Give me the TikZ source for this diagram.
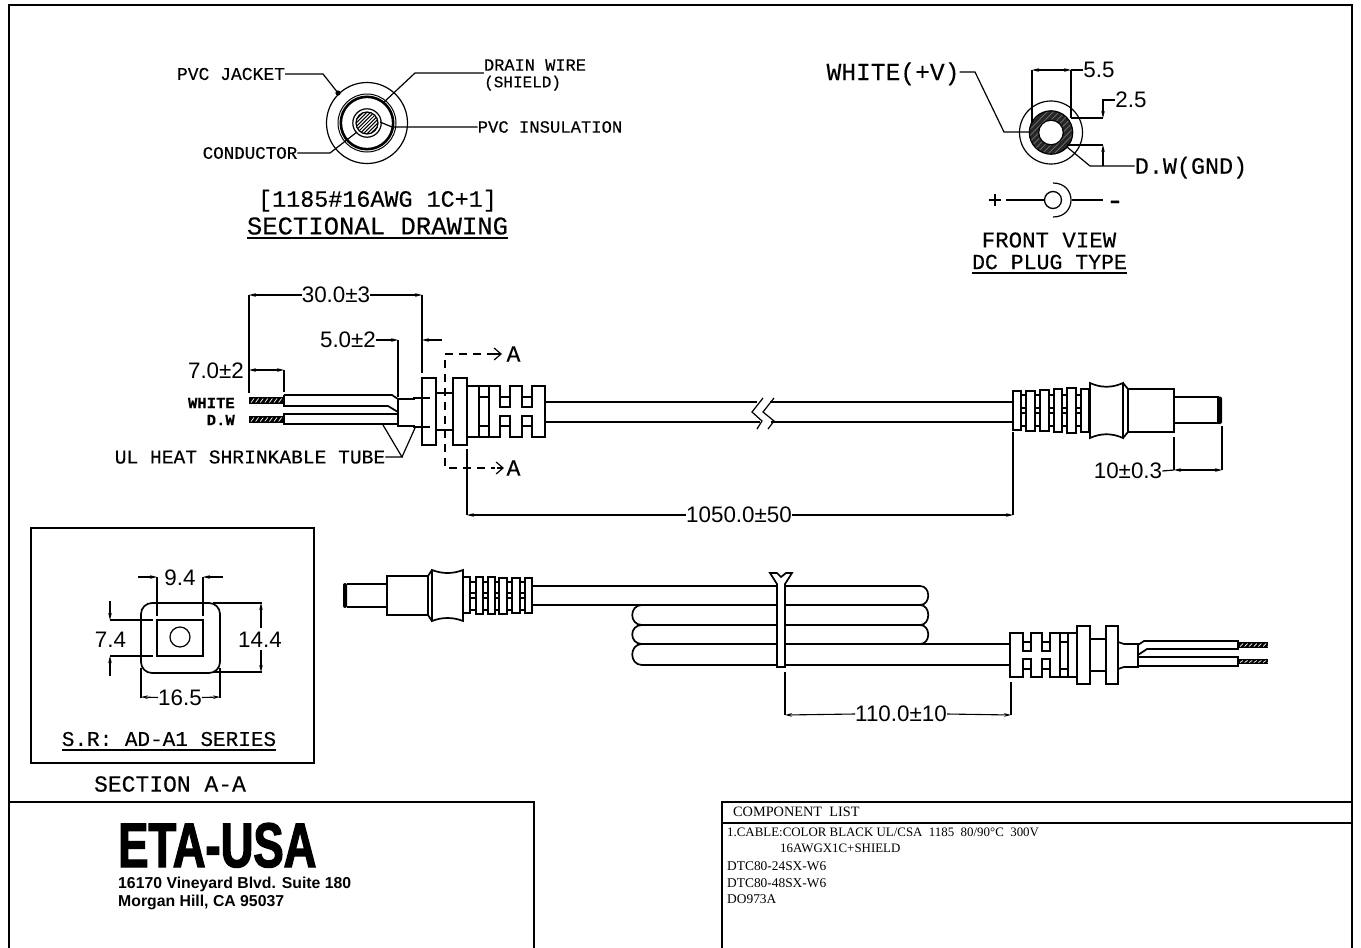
\documentclass[tikz,border=0pt]{standalone}
\usepackage{fontspec}
\usetikzlibrary{arrows.meta}
\newfontfamily\cadfont[FakeBold=0.25]{Liberation Mono}
\newfontfamily\dimfont{Liberation Sans}
\newfontfamily\listfont{Liberation Serif}
\newfontfamily\addrfont{Liberation Sans}
\newfontfamily\logofont[FakeStretch=0.72,FakeBold=2]{Liberation Sans}
\tikzset{
  part/.style={line width=1.7pt},
  thinline/.style={line width=1.2pt},
  frameline/.style={line width=1.5pt},
  dimarrow/.style={line width=1.1pt,-{Stealth[length=7pt,width=3.6pt]}},
  dimboth/.style={line width=1.1pt,{Stealth[length=7pt,width=3.6pt]}-{Stealth[length=7pt,width=3.6pt]}},
  sectarrow/.style={line width=1.2pt,-{Straight Barb[length=7pt,width=12pt]}},
  cadtext/.style={font=\cadfont\fontsize{#1}{#1}\selectfont,inner sep=0pt,text height={#1*0.66pt},text depth=0pt},
  dimtext/.style={font=\dimfont\fontsize{22.4}{22.4}\selectfont,inner sep=0pt,text height=15pt,text depth=0pt},
  listtext/.style={font=\listfont\fontsize{12.9}{12.9}\selectfont,inner sep=0pt,anchor=west},
  parttext/.style={font=\listfont\fontsize{13.4}{13.4}\selectfont,inner sep=0pt,anchor=west},
  addrtext/.style={font=\addrfont\bfseries\fontsize{15.8}{15.8}\selectfont,inner sep=0pt,anchor=west},
}
\begin{document}
\begin{tikzpicture}[x=1pt,y=-1pt]
        \useasboundingbox (0,0) rectangle (1361,948);

        % sheet and title boxes
        \draw[frameline] (9,948) -- (9,5) -- (1352,5) -- (1352,948);
        \draw[frameline] (9,802) -- (534,802) -- (534,948);
        \draw[frameline] (722,948) -- (722,802) -- (1352,802);
        \draw[thinline] (722,823) -- (1352,823);

        % sectional drawing
        \node[cadtext=18] (jacket) at (231,74) {PVC JACKET};
        \node[cadtext=17] (drain) at (535,65) {DRAIN WIRE};
        \node[cadtext=16,anchor=west] (shield) at (484,82) {(SHIELD)};
        \node[cadtext=17.2] (insul) at (550,127) {PVC INSULATION};
        \node[cadtext=17.5] (conductor) at (250,153) {CONDUCTOR};
        \node[cadtext=23.4] (awg) at (377.5,199) {[1185\#16AWG 1C+1]};
        \node[cadtext=25.6] (secdraw) at (377.5,226) {SECTIONAL DRAWING};
        \draw[thinline] (247,238) -- (508,238);
        \draw[thinline] (367,123) circle (40.5);
        \draw[line width=1pt] (367,123) circle (29);
        \draw[line width=2.6pt] (367,123) circle (26.2);
        \draw[thinline] (367,123) circle (14.2);
        \draw[thinline] (367,123) circle (11);
        \begin{scope}
          \clip (367,123) circle (11);
          \foreach \k in {-4,...,4}
            \draw[line width=1pt] ({367+\k*3.6-14},137) -- ({367+\k*3.6+14},109);
        \end{scope}
        \draw[thinline] (jacket.east) -- (323,74) -- (338,93);
        \fill (338,93) circle (2.6);
        \draw[thinline] (drain.west |- 0,73) -- (415,73) -- (383,103);
        \draw[thinline] (insul.west) -- (392,127) -- (380,122);
        \draw[thinline] (conductor.east) -- (330,153) -- (357,132);

        % front view of the plug
        \node[cadtext=24.6] (white) at (893,72) {WHITE(+V)};
        \node[dimtext] (dimfive) at (1099,70) {5.5};
        \node[dimtext] (dimtwo) at (1131,100) {2.5};
        \node[cadtext=23.4] (gnd) at (1191,166) {D.W(GND)};
        \node[cadtext=22.4] (front) at (1049,240) {FRONT VIEW};
        \node[cadtext=21.5] (plugtype) at (1049.5,262) {DC PLUG TYPE};
        \draw[thinline] (972,273) -- (1127,273);
        \draw[thinline] (1051,132.5) circle (31.5);
        \begin{scope}
          \clip (1051,132.5) circle (21.7);
          \fill[black!85] (1051,132.5) circle (21.7);
          \foreach \k in {-6,...,6}
            \draw[black!55,line width=.7pt] ({1051+\k*6-24},157) -- ({1051+\k*6+24},108);
        \end{scope}
        \draw[thinline] (1051,132.5) circle (21.7);
        \draw[thinline,fill=white] (1051,132.5) circle (12.3);
        \draw[thinline] (1032,70) -- (1032,123);
        \draw[thinline] (1071,70) -- (1071,118);
        \draw[dimboth] (1032,70) -- (1071,70);
        \draw[thinline] (1071,70) -- (dimfive.west);
        \draw[thinline] (1071,118) -- (1103,118);
        \draw[thinline] (1067,145) -- (1103,145);
        \draw[dimarrow] (dimtwo.west) -- (1103,100) -- (1103,118);
        \draw[thinline] (white.east) -- (975,72) -- (1004,132) -- (1030,132);
        \draw[thinline] (1067,147) -- (1090,166) -- (gnd.west);
        \draw[dimarrow] (1103,166) -- (1103,145);
        \node[cadtext=24] (plus) at (995,200) {+};
        \node[cadtext=30] (minus) at (1115,200) {-};
        \node[circle,draw,line width=1.3pt,minimum size=17pt,inner sep=0pt] (jack) at (1053,200) {};
        \draw[thinline] (1006,200) -- (jack.west);
        \draw[thinline] (1072,200) -- (1103,200);
        \draw[thinline] (1053,183) .. controls (1077,183) and (1077,217) .. (1053,217);

        % cable, upper view
        \node[dimtext] (dimthirty) at (336,295) {30.0±3};
        \node[dimtext] (dimfivetwo) at (348,340) {5.0±2};
        \node[dimtext] (dimseven) at (216,371) {7.0±2};
        \node[dimtext] (dimplug) at (1128,471) {10±0.3};
        \node[dimtext] (dimlength) at (739,515) {1050.0±50};
        \node[cadtext=15.6,anchor=east,font=\cadfont\bfseries\fontsize{15.6}{15.6}\selectfont] (wirewhite) at (235,403) {WHITE};
        \node[cadtext=15.6,anchor=east,font=\cadfont\bfseries\fontsize{15.6}{15.6}\selectfont] (wiredw) at (235,420) {D.W};
        \node[cadtext=19.6] (tube) at (250,457) {UL HEAT SHRINKABLE TUBE};
        \node[cadtext=23] (secatop) at (513.5,354) {A};
        \node[cadtext=23] (secabot) at (513.5,468) {A};

        \draw[part] (284,395) -- (392,395) -- (398,399);
        \draw[part] (284,395) -- (284,406) -- (388,406) -- (398,412);
        \draw[part] (284,414) rectangle (398,424);
        \draw[part] (398,399) -- (398,426) -- (414,426) -- (414,427) -- (430,427);
        \draw[part] (398,399) -- (414,399) -- (414,398) -- (430,398);
        \draw[part] (436,393) -- (453,393);
        \draw[part] (436,430) -- (453,430);
        \foreach \xa/\xb in {422/436,453/467}
          \draw[part] (\xa,378) rectangle (\xb,445);
        \draw[white,line width=1.2pt,dashed] (430,399) -- (430,426);
        \draw[part] (467,386) -- (500,386) -- (500,407) -- (510,407) -- (510,386) -- (522,386) -- (522,407) -- (532,407) -- (532,386) -- (545,386) -- (545,437) -- (532,437) -- (532,416) -- (522,416) -- (522,437) -- (510,437) -- (510,416) -- (500,416) -- (500,437) -- (467,437) -- cycle;
        \foreach \xa in {479,489}
          \draw[part] (\xa,386) -- (\xa,437);
        \foreach \xa/\xb in {479/489,500/510,522/532}{
          \draw[part] (\xa,397) -- (\xb,397);
          \draw[part] (\xa,426) -- (\xb,426);
        }
        \draw[part] (545,402) -- (757,402);
        \draw[part] (545,422) -- (760,422);
        \draw[part] (770,402) -- (1013,402);
        \draw[part] (771,422) -- (1013,422);
        \draw[thinline] (763,398) -- (752,412) -- (762,421) -- (757,429);
        \draw[thinline] (774,398) -- (763,412) -- (774,421) -- (768,429);

        \draw[thinline,dashed,dash pattern=on 8pt off 6pt] (495,354) -- (445,354) -- (445,468) -- (495,468);
        \draw[sectarrow] (495,354) -- (502,354);
        \draw[sectarrow] (497,468) -- (504,468);

        \foreach \xa/\xb/\ya/\yb in {249/284/397/404,249/284/416/423,1238/1268/642/648,1238/1268/659/664}{
          \fill (\xa,\ya) rectangle (\xb,\yb);
          \foreach \k in {0,...,6}
            \draw[white,line width=.7pt] ({\xa+2+\k*4.6},{\yb-1.5}) -- ({\xa+5+\k*4.6},{\ya+1.5});
        }

        \draw[thinline] (249,295) -- (249,393);
        \draw[thinline] (284,370) -- (284,392);
        \draw[thinline] (422,295) -- (422,373);
        \draw[thinline] (398,340) -- (398,397);
        \draw[dimarrow] (dimthirty.west) -- (249,295);
        \draw[dimarrow] (dimthirty.east) -- (422,295);
        \draw[dimboth] (249,370) -- (284,370);
        \draw[dimarrow] (dimfivetwo.east) -- (398,340);
        \draw[dimarrow] (442,340) -- (422,340);
        \draw[thinline] (tube.east) -- (402,457) -- (383,425);
        \draw[thinline] (402,457) -- (415,428);
        \draw[thinline] (467,449) -- (467,515);
        \draw[thinline] (1013,432) -- (1013,515);
        \draw[dimarrow] (dimlength.west) -- (467,515);
        \draw[dimarrow] (dimlength.east) -- (1013,515);

        \draw[part] (1021,395) -- (1081,395);
        \draw[part] (1021,426) -- (1081,426);
        \draw[thinline] (1021,408) -- (1081,408);
        \draw[thinline] (1021,413) -- (1081,413);
        \foreach \xa/\xb/\ya/\yb in {1013/1021/391/430,1026/1035/391/431,1040/1049/390/431,1054/1062/389/432,1067/1076/388/433,1081/1089/389/432}
          \draw[part,fill=white] (\xa,\ya) rectangle (\xb,\yb);
        \draw[part] (1090,383) .. controls (1101,388) and (1112,388) .. (1123,383) -- (1123,438) .. controls (1112,433) and (1101,433) .. (1090,438) -- cycle;
        \draw[part] (1123,383) -- (1128,389);
        \draw[part] (1123,438) -- (1128,432);
        \draw[part] (1128,389) rectangle (1174,432);
        \draw[part] (1174,397) -- (1219,397);
        \draw[line width=2.4pt] (1174,423) -- (1219,423);
        \fill[rounded corners=2pt] (1217,396.5) rectangle (1222,424);
        \draw[thinline] (1174,437) -- (1174,470);
        \draw[thinline] (1222,426) -- (1222,470);
        \draw[dimboth] (1174,470) -- (1222,470);
        \draw[thinline] (dimplug.east) -- (1174,470);

        % section A-A
        \draw[frameline] (31,528) rectangle (314,763);
        \node[dimtext] (dimnine) at (180,578) {9.4};
        \node[dimtext] (dimsevenfour) at (110.5,640) {7.4};
        \node[dimtext] (dimfourteen) at (260,640) {14.4};
        \node[dimtext] (dimsixteen) at (180,697.5) {16.5};
        \node[cadtext=21] (series) at (169,739) {S.R: AD-A1 SERIES};
        \node[cadtext=23] (section) at (170,784) {SECTION A-A};
        \draw[thinline] (62,750) -- (276,750);
        \draw[part,rounded corners=11pt] (141,603) rectangle (220,673);
        \draw[part] (157,620) rectangle (203,656);
        \draw[thinline] (180,637) circle (10);
        \draw[thinline] (157,577) -- (157,616);
        \draw[thinline] (203,577) -- (203,616);
        \draw[dimarrow] (138,577) -- (157,577);
        \draw[dimarrow] (223,577) -- (203,577);
        \draw[thinline] (110,620) -- (153,620);
        \draw[thinline] (110,656) -- (153,656);
        \draw[dimarrow] (110,601) -- (110,620);
        \draw[dimarrow] (110,676) -- (110,656);
        \draw[thinline] (213,603) -- (262,603);
        \draw[thinline] (213,672) -- (262,672);
        \draw[dimarrow] (261,628) -- (261,603);
        \draw[dimarrow] (261,650) -- (261,672);
        \draw[thinline] (141,668) -- (141,698);
        \draw[thinline] (220,668) -- (220,698);
        \draw[dimarrow] (dimsixteen.west) -- (141,697);
        \draw[dimarrow] (dimsixteen.east) -- (220,697);

        % cable, coiled view
        \node[dimtext] (dimtie) at (901,714) {110.0±10};
        \fill[rounded corners=2pt] (343,583) rectangle (347,608);
        \draw[part] (347,584) -- (387,584);
        \draw[part] (347,607) -- (387,607);
        \draw[part] (387,576) rectangle (428,615);
        \draw[part] (428,576) -- (432,570);
        \draw[part] (428,615) -- (432,621);
        \draw[part] (432,570) .. controls (442,574) and (453,574) .. (463,570) -- (463,621) .. controls (453,617) and (442,617) .. (432,621) -- cycle;
        \draw[part] (470,582) -- (525,582);
        \draw[part] (470,610) -- (525,610);
        \draw[thinline] (470,593) -- (525,593);
        \draw[thinline] (470,598) -- (525,598);
        \foreach \xa/\xb/\ya/\yb in {463/470/577/613,476/483/577/614,488/495/577/614,499/507/578/614,512/520/578/613,525/532/578/613}
          \draw[part,fill=white] (\xa,\ya) rectangle (\xb,\yb);
        \draw[part] (532,586) -- (920,586);
        \draw[part] (532,605) -- (920,605);
        \draw[part] (642,625) -- (920,625);
        \draw[part] (642,644) -- (1010,644);
        \draw[part] (642,665) -- (1010,665);
        \foreach \ya/\yb in {586/605,605/625,625/644}
          \draw[part] (920,\ya) .. controls (931,\ya) and (931,\yb) .. (920,\yb);
        \foreach \ya/\yb in {605/625,625/644,644/665}
          \draw[part] (642,\ya) .. controls (629,\ya) and (629,\yb) .. (642,\yb);
        \draw[part,fill=white] (777,667) -- (777,584) -- (770,573) -- (777,573) -- (781,577) -- (786,573) -- (792,573) -- (785,584) -- (785,667) -- cycle;
        \draw[thinline] (785,672) -- (785,715);
        \draw[thinline] (1011,682) -- (1011,715);
        \draw[dimarrow] (dimtie.west) -- (785,715);
        \draw[dimarrow] (dimtie.east) -- (1011,715);

        \draw[part] (1010,633) -- (1023,633) -- (1023,651) -- (1031,651) -- (1031,633) -- (1042,633) -- (1042,651) -- (1050,651) -- (1050,633) -- (1077,633) -- (1077,677) -- (1050,677) -- (1050,659) -- (1042,659) -- (1042,677) -- (1031,677) -- (1031,659) -- (1023,659) -- (1023,677) -- (1010,677) -- cycle;
        \foreach \xa in {1060,1068}
          \draw[part] (\xa,633) -- (\xa,677);
        \foreach \xa/\xb in {1023/1031,1042/1050,1060/1068}{
          \draw[part] (\xa,642) -- (\xb,642);
          \draw[part] (\xa,669) -- (\xb,669);
        }
        \foreach \xa/\xb in {1077/1090,1106/1118}
          \draw[part] (\xa,626) rectangle (\xb,684);
        \draw[part] (1090,639) -- (1106,639);
        \draw[part] (1090,671) -- (1106,671);
        \draw[part] (1118,642) -- (1124,644) -- (1138,644) -- (1138,667) -- (1124,667) -- (1118,669);
        \draw[part] (1138,645) -- (1144,641) -- (1238,641) -- (1238,649) -- (1147,649) -- (1138,655);
        \draw[part] (1138,657) -- (1238,657) -- (1238,666) -- (1138,666);

        % title block
        \node[font=\logofont\bfseries\fontsize{63}{63}\selectfont,inner sep=0pt,anchor=west,text height=44pt,text depth=0pt] (logo) at (118,845) {ETA-USA};
        \node[addrtext] (street) at (118,884) {16170 Vineyard Blvd. Suite 180};
        \node[addrtext] (city) at (118,902) {Morgan Hill, CA 95037};
        \node[listtext,font=\listfont\fontsize{14.3}{14.3}\selectfont] (listhead) at (733,812) {COMPONENT\ \ LIST};
        \node[listtext] (listcable) at (727,832) {1.CABLE:COLOR BLACK UL/CSA\ \ 1185\ \ 80/90°C\ \ 300V};
        \node[listtext] (listawg) at (780,848) {16AWGX1C+SHIELD};
        \node[parttext] (listtwo) at (727,866) {DTC80-24SX-W6};
        \node[parttext] (listfour) at (727,883) {DTC80-48SX-W6};
        \node[parttext] (listdo) at (727,899) {DO973A};
      \end{tikzpicture}
\end{document}
